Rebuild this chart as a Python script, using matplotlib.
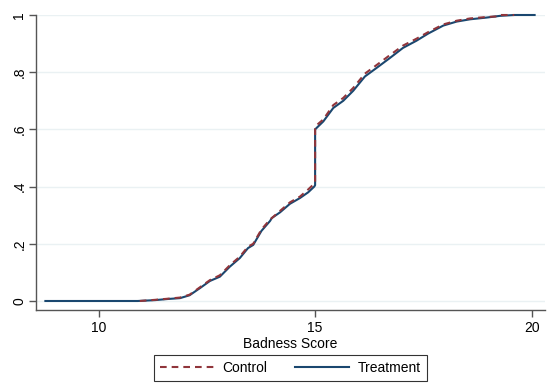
import matplotlib
matplotlib.use("Agg")
import matplotlib.pyplot as plt

treat_x = [8.77, 10.9, 11.3, 11.6, 11.88, 12.1, 12.34, 12.57, 12.8, 13.03,
           13.26, 13.45, 13.57, 13.76, 13.96, 14.0, 14.19, 14.42, 14.65, 14.84,
           14.98, 15.0, 15.0, 15.19, 15.42, 15.65, 15.88, 16.15, 16.42, 16.73,
           17.03, 17.34, 17.61, 17.96, 18.27, 18.58, 18.96, 19.27, 19.6, 20.07]
treat_y = [0, 0, 0.003, 0.007, 0.01, 0.02, 0.045, 0.07, 0.085, 0.12,
           0.15, 0.185, 0.196, 0.245, 0.28, 0.29, 0.31, 0.34, 0.36, 0.38,
           0.40, 0.405, 0.60, 0.628, 0.675, 0.70, 0.735, 0.785, 0.815, 0.85,
           0.885, 0.91, 0.935, 0.963, 0.977, 0.985, 0.991, 0.997, 1.0, 1.0]

ctrl_x = [10.95, 11.3, 11.6, 11.88, 12.1, 12.34, 12.57, 12.8, 13.03, 13.26,
          13.45, 13.57, 13.76, 13.96, 14.0, 14.19, 14.42, 14.65, 14.84, 14.98,
          15.0, 15.0, 15.19, 15.42, 15.65, 15.88, 16.15, 16.42, 16.73, 17.03,
          17.34, 17.61, 17.96, 18.27, 18.58, 18.96, 19.2, 19.25, 19.6]
ctrl_y = [0, 0.004, 0.008, 0.012, 0.022, 0.048, 0.073, 0.09, 0.125, 0.155,
          0.19, 0.2, 0.25, 0.285, 0.29, 0.315, 0.345, 0.365, 0.39, 0.41,
          0.415, 0.61, 0.635, 0.685, 0.71, 0.745, 0.795, 0.825, 0.86, 0.893,
          0.917, 0.94, 0.967, 0.98, 0.988, 0.993, 0.995, 1.0, 1.0]

x_ticks = [10, 15, 20]
y_ticks = [0, 0.2, 0.4, 0.6, 0.8, 1.0]
y_ticklabels = ["0", ".2", ".4", ".6", ".8", "1"]

plt.rcParams['font.family'] = ['Liberation Sans', 'DejaVu Sans']

W, H = 551, 385
fig = plt.figure(figsize=(W / 100, H / 100), dpi=100)
ax = fig.add_axes([36 / W, 1 - 310 / H, (545 - 36) / W, (310 - 15) / H])

navy = '#1a476f'
maroon = '#90353b'

ax.plot(treat_x, treat_y, color=navy, lw=1.5, label='Treatment', clip_on=False, zorder=3)
ax.plot(ctrl_x, ctrl_y, color=maroon, lw=1.5, ls=(0, (3.2, 2.4)), label='Control',
        clip_on=False, zorder=4)

ax.set_xlim(8.553, 20.31)
ax.set_ylim(-0.0315, 1.0)

ax.set_xticks(x_ticks)
ax.set_xticklabels([str(t) for t in x_ticks])
ax.set_yticks(y_ticks)
ax.set_yticklabels(y_ticklabels, rotation=90, va='center')

ax.grid(axis='y', color='#eaf1f3', lw=1.0)
ax.set_axisbelow(True)

for s in ['top', 'right']:
    ax.spines[s].set_visible(False)
for s in ['left', 'bottom']:
    ax.spines[s].set_color('#555555')
    ax.spines[s].set_linewidth(1.0)

ax.tick_params(axis='x', length=5, width=1.0, color='#555555', labelsize=10, pad=3)
ax.tick_params(axis='y', length=5, width=1.0, color='#555555', labelsize=10, pad=2)
ax.set_xlabel('Badness Score', fontsize=10, labelpad=1)

handles, labels = ax.get_legend_handles_labels()
order = [1, 0]
leg = fig.legend([handles[i] for i in order], [labels[i] for i in order],
                 loc='center', bbox_to_anchor=(290.5 / W, 1 - 368 / H),
                 ncol=2, fontsize=10, frameon=True, fancybox=False,
                 edgecolor='black', handlelength=3.9, columnspacing=2.0,
                 handletextpad=0.6, borderpad=0.45)
leg.get_frame().set_linewidth(0.8)

fig.savefig('out.png', dpi=100, facecolor='white')
